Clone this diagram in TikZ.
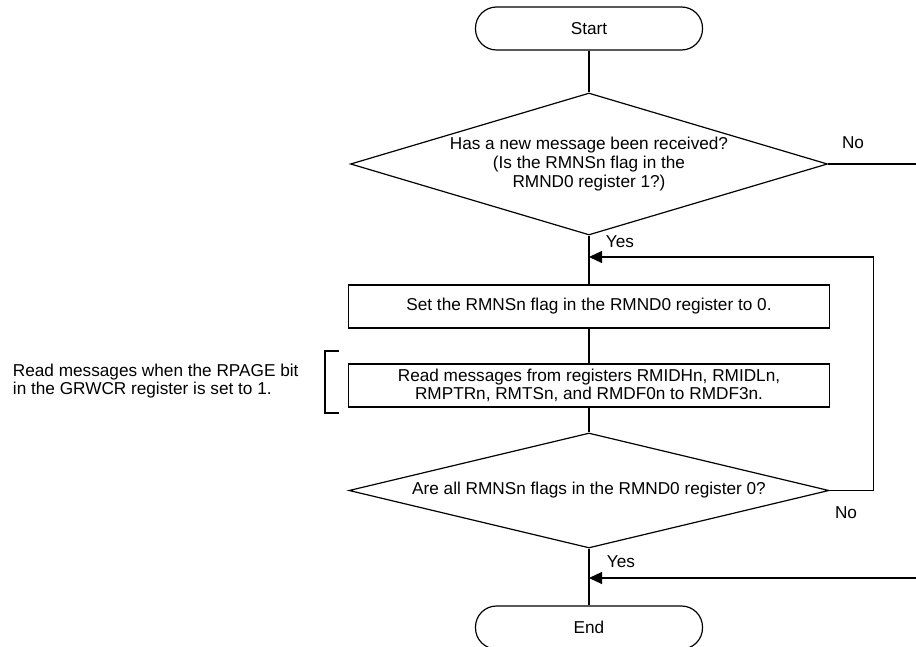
\documentclass[tikz,border=0pt]{standalone}
\usepackage{fontspec}
\setmainfont{Liberation Sans}
\usetikzlibrary{arrows.meta,positioning,shapes.geometric,calc}

\begin{document}
\begin{tikzpicture}[x=1pt, y=-1pt, line width=1.2pt,
  every node/.style={font=\fontsize{17.2}{18.6}\selectfont},
  terminal/.style={draw, rounded corners=21pt, minimum width=227pt,
                   minimum height=43pt, inner sep=0pt},
  process/.style={draw, minimum width=481pt, minimum height=43pt,
                  inner sep=0pt, align=center},
  decision/.style={draw, diamond, inner sep=0pt, align=center},
  flow/.style={-{Triangle[length=13pt, width=12pt]}}
]
  \useasboundingbox (0,0) rectangle (916,647);

  \node[terminal] (start) at (589,28.5) {Start};
  \node[decision, minimum width=477pt, minimum height=142pt, aspect=3.36]
       (newmsg) at (589,164) {Has a new message been received?\\(Is the RMNSn flag in the\\RMND0 register 1?)};
  \node[process] (clear) at (589,306.5) {Set the RMNSn flag in the RMND0 register to 0.};
  \node[process] (read) at (589,385.5) {Read messages from registers RMIDHn, RMIDLn,\\RMPTRn, RMTSn, and RMDF0n to RMDF3n.};
  \node[decision, minimum width=480pt, minimum height=115pt, aspect=4.17]
       (allread) at (589,490.5) {Are all RMNSn flags in the RMND0 register 0?};
  \node[terminal] (end) at (589,627.5) {End};

  % note on the left
  \node[anchor=west, align=left] (note) at (9,381) {Read messages when the RPAGE bit\\in the GRWCR register is set to 1.};
  \draw (339,351) -- (325,351) -- (325,413) -- (339,413);

  % off-page ends and join points
  \coordinate (noout) at (916,164);
  \coordinate (noin)  at (916,578);
  \coordinate (loopin) at (589,257);
  \coordinate (endin)  at (589,578);

  \draw (start) -- (newmsg);
  \draw (newmsg) -- (clear);
  \draw (clear) -- (read);
  \draw (read) -- (allread);
  \draw (allread) -- (end);
  \draw (newmsg.east) -- (noout);
  \draw[flow] (allread.east) -- ++(44,0) |- (loopin);
  \draw[flow] (noin) -- (endin);

  \node (no1)  at (853,143) {No};
  \node (yes1) at (620,242) {Yes};
  \node (no2)  at (846,513) {No};
  \node (yes2) at (621,562) {Yes};
\end{tikzpicture}
\end{document}
